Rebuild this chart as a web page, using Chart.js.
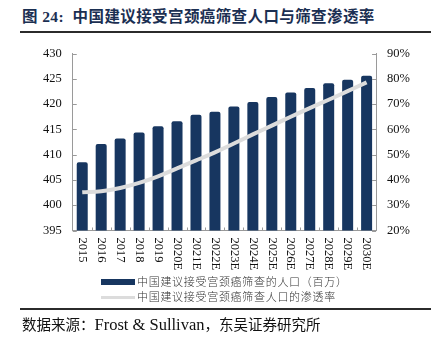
<!DOCTYPE html>
<html>
<head>
<meta charset="utf-8">
<script src="https://cdn.jsdelivr.net/npm/chart.js@4.4.0/dist/chart.umd.min.js"></script>
<style>
body { margin: 0; width: 438px; height: 348px; background: #fff; position: relative; overflow: hidden; font-family: "Liberation Serif", "Noto Sans CJK SC", serif; }
#title { position: absolute; left: 22px; top: 7px; font-size: 15.5px; font-weight: bold; color: #1b2f52; line-height: 20px; white-space: nowrap; letter-spacing: 0.4px; }
.rule { position: absolute; left: 20px; width: 411px; height: 2px; background: #2b2b2b; }
#wrap { position: absolute; left: 0; top: 35px; width: 438px; height: 240px; }
.leg { position: absolute; left: 101px; height: 14px; line-height: 14px; font-family: "Noto Sans CJK SC"; font-size: 11px; font-weight: 300; letter-spacing: 0.7px; color: #333; white-space: nowrap; }
.sw { display: inline-block; width: 34px; vertical-align: middle; margin-right: 2px; position: relative; top: -1px; }
#src { position: absolute; left: 22px; top: 314px; font-size: 14.5px; line-height: 20px; color: #111; white-space: nowrap; }
#src .en { font-family: "Liberation Serif"; font-size: 16.5px; }
</style>
</head>
<body>
<div id="title">图 24:&nbsp;&nbsp;中国建议接受宫颈癌筛查人口与筛查渗透率</div>
<div class="rule" style="top:31px"></div>
<div id="wrap"><canvas id="chart"></canvas></div>
<div class="leg" style="top:274px"><span class="sw" style="height:6px;background:#173660"></span>中国建议接受宫颈癌筛查的人口（百万）</div>
<div class="leg" style="top:289px"><span class="sw" style="height:3px;background:#dcdcdc"></span>中国建议接受宫颈癌筛查人口的渗透率</div>
<div class="rule" style="top:308px"></div>
<div id="src"><span style="font-family:'Noto Sans CJK SC'">数据来源：</span><span class="en">Frost &amp; Sullivan</span><span style="font-family:'Noto Sans CJK SC'">，东吴证券研究所</span></div>
<script>
// categories and series
const years = ['2015', '2016', '2017', '2018', '2019', '2020E', '2021E', '2022E',
    '2023E', '2024E', '2025E', '2026E', '2027E', '2028E', '2029E', '2030E'];
const population = [408.5, 412.1, 413.2, 414.4, 415.6, 416.6, 417.9, 418.5,
    419.5, 420.4, 421.4, 422.3, 423.2, 424.1, 424.8, 425.6];
const penetration = [35.1, 35.5, 36.8, 38.8, 41.4, 44.6, 47.7, 50.9,
    54.4, 58.0, 61.5, 65.0, 68.4, 71.7, 75.1, 78.6];

const axisColor = '#9a9a9a';
const tickFont = { family: 'Liberation Serif', size: 12.5 };

// x labels read top-to-bottom, ticks point inward
const axisExtras = {
    id: 'axisExtras',
    afterDraw(chart) {
        const ctx = chart.ctx;
        const area = chart.chartArea;
        const x = chart.scales.x, y = chart.scales.y, y1 = chart.scales.y1;
        ctx.save();
        ctx.strokeStyle = axisColor;
        ctx.lineWidth = 1;
        ctx.beginPath();
        y.ticks.forEach(t => {
            const py = Math.round(y.getPixelForValue(t.value)) + 0.5;
            ctx.moveTo(area.left, py);
            ctx.lineTo(area.left + 4, py);
        });
        y1.ticks.forEach(t => {
            const py = Math.round(y1.getPixelForValue(t.value)) + 0.5;
            ctx.moveTo(area.right, py);
            ctx.lineTo(area.right - 4, py);
        });
        const step = (area.right - area.left) / years.length;
        for (let i = 1; i < years.length; i++) {
            const px = Math.round(area.left + step * i) + 0.5;
            ctx.moveTo(px, area.bottom);
            ctx.lineTo(px, area.bottom - 3);
        }
        ctx.stroke();

        ctx.fillStyle = '#111';
        ctx.font = '12.5px "Liberation Serif"';
        ctx.textAlign = 'left';
        ctx.textBaseline = 'middle';
        years.forEach((label, i) => {
            ctx.save();
            ctx.translate(x.getPixelForValue(i), area.bottom + 7);
            ctx.rotate(Math.PI / 2);
            ctx.fillText(label, 0, 0);
            ctx.restore();
        });
        ctx.restore();
    }
};

new Chart(document.getElementById('chart'), {
    data: {
        labels: years,
        datasets: [
            {
                type: 'line',
                label: '中国建议接受宫颈癌筛查人口的渗透率',
                data: penetration,
                yAxisID: 'y1',
                borderColor: '#dcdcdc',
                borderWidth: 4,
                pointRadius: 0,
                tension: 0.4,
                order: 0,
            },
            {
                type: 'bar',
                label: '中国建议接受宫颈癌筛查的人口（百万）',
                data: population,
                yAxisID: 'y',
                backgroundColor: '#173660',
                borderRadius: 2,
                borderSkipped: 'bottom',
                barPercentage: 0.58,
                categoryPercentage: 1,
                order: 1,
            },
        ],
    },
    options: {
        responsive: true,
        maintainAspectRatio: false,
        animation: false,
        layout: { padding: { left: 32, right: 17, top: 2, bottom: 0 } },
        plugins: {
            legend: { display: false },
            tooltip: { enabled: false },
        },
        scales: {
            x: {
                grid: { drawOnChartArea: false, drawTicks: false },
                border: { color: axisColor },
                ticks: { display: false },
                afterFit: function (scale) { scale.height = 44.5; },
            },
            y: {
                position: 'left',
                min: 395,
                max: 430,
                grid: { drawOnChartArea: false, drawTicks: false },
                border: { color: axisColor },
                ticks: { stepSize: 5, padding: 11, color: '#111', font: tickFont },
            },
            y1: {
                position: 'right',
                min: 20,
                max: 90,
                grid: { drawOnChartArea: false, drawTicks: false },
                border: { color: axisColor },
                ticks: {
                    stepSize: 10,
                    padding: 11,
                    color: '#111',
                    font: tickFont,
                    callback: function (v) { return v + '%'; },
                },
            },
        },
    },
    plugins: [axisExtras],
});
</script>
</body>
</html>
